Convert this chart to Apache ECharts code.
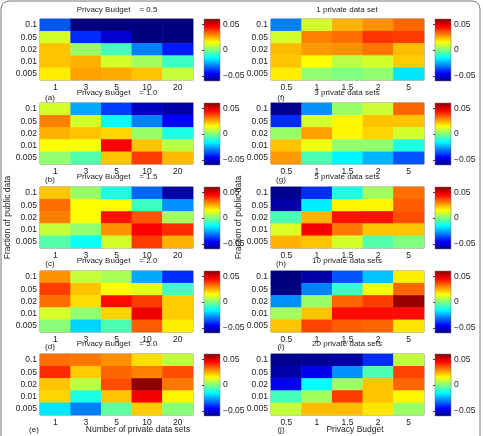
<!DOCTYPE html>
<html>
<head>
<meta charset="utf-8">
<script src="https://cdn.jsdelivr.net/npm/echarts@6/dist/echarts.min.js"></script>
<style>
  html, body { margin: 0; padding: 0; background: #fff; }
  #chart { width: 483px; height: 436px; }
</style>
</head>
<body>
<div id="chart"></div>
<script>
// y categories, top to bottom
const fractions = ['0.1', '0.05', '0.02', '0.01', '0.005']
const dataSetCounts = ['1', '3', '5', '10', '20']
const budgets = ['0.5', '1', '1.5', '2', '5']
const colorTicks = [-0.05, 0, 0.05]

const leftTitles = ['Privacy Budget    = 0.5', 'Privacy Budget    = 1.0', 'Privacy Budget    = 1.5', 'Privacy Budget    = 2.0', 'Privacy Budget    = 5.0']
const rightTitles = ['1 private data set', '3 private data sets', '5 private data sets', '10 private data sets', '20 private data sets']
const leftTags = ['(a)', '(b)', '(c)', '(d)', '(e)']
const rightTags = ['(f)', '(g)', '(h)', '(i)', '(j)']

// rows follow fractions (0.1 first), columns follow the x categories
const pb05 = [
  [-0.035, -0.06, -0.06, -0.06, -0.06],
  [0.01, -0.04, -0.05, -0.06, -0.06],
  [0.022, 0.003, -0.007, -0.03, -0.042],
  [0.022, 0.024, 0.01, 0.004, -0.008],
  [0.017, 0.026, 0.025, 0.022, 0.008],
]
const pb10 = [
  [0.01, -0.025, -0.038, -0.052, -0.055],
  [0.03, 0.01, -0.015, -0.03, -0.045],
  [0.024, 0.022, 0.02, 0.003, -0.012],
  [0.015, 0.014, 0.045, 0.022, 0.007],
  [0.002, -0.005, 0.022, 0.038, 0.023],
]
const pb15 = [
  [0.022, 0.003, -0.012, -0.033, -0.055],
  [0.032, 0.015, 0.015, -0.008, -0.028],
  [0.03, 0.015, 0.043, 0.035, 0.004],
  [0.008, 0.002, 0.028, 0.045, 0.04],
  [-0.005, -0.014, 0.01, 0.038, 0.024],
]
const pb20 = [
  [0.028, 0.008, 0.005, -0.025, -0.04],
  [0.038, 0.022, 0.015, 0.012, -0.007],
  [0.032, 0.019, 0.044, 0.038, 0.021],
  [0.01, 0.002, 0.02, 0.047, 0.021],
  [0.001, -0.02, -0.006, 0.034, 0.017],
]
const pb50 = [
  [0.032, 0.031, 0.028, 0.019, 0.008],
  [0.04, 0.021, 0.033, 0.03, 0.036],
  [0.022, 0.007, 0.036, 0.058, 0.031],
  [0.02, -0.012, 0.022, 0.046, 0.016],
  [-0.018, -0.03, -0.004, 0.021, 0.001],
]
const sets1 = [
  [-0.03, 0.01, 0.024, 0.028, 0.033],
  [0.01, 0.03, 0.032, 0.039, 0.038],
  [0.023, 0.027, 0.028, 0.031, 0.023],
  [0.022, 0.015, 0.007, 0.01, 0.021],
  [0.017, 0.002, 0.0, 0.002, -0.018],
]
const sets3 = [
  [-0.058, -0.028, 0.003, 0.009, 0.033],
  [-0.04, 0.01, 0.016, 0.022, 0.022],
  [0.003, 0.026, 0.016, 0.02, 0.01],
  [0.022, 0.013, 0.002, 0.002, -0.012],
  [0.027, -0.006, -0.016, -0.024, -0.035],
]
const sets5 = [
  [-0.058, -0.04, -0.012, 0.004, 0.032],
  [-0.055, -0.017, 0.016, 0.016, 0.034],
  [-0.006, 0.024, 0.043, 0.043, 0.036],
  [0.011, 0.046, 0.031, 0.022, 0.022],
  [0.024, 0.022, 0.01, -0.005, 0.0],
]
const sets10 = [
  [-0.06, -0.055, -0.035, -0.022, 0.017],
  [-0.06, -0.03, -0.008, 0.014, 0.033],
  [-0.028, 0.003, 0.033, 0.038, 0.057],
  [0.004, 0.022, 0.044, 0.044, 0.044],
  [0.022, 0.037, 0.034, 0.033, 0.018],
]
const sets20 = [
  [-0.058, -0.057, -0.056, -0.04, 0.008],
  [-0.055, -0.047, -0.028, -0.006, 0.037],
  [-0.047, -0.015, 0.004, 0.022, 0.033],
  [-0.007, 0.004, 0.038, 0.022, 0.016],
  [0.008, 0.023, 0.023, 0.018, 0.003],
]

const leftPanels = [pb05, pb10, pb15, pb20, pb50]
const rightPanels = [sets1, sets3, sets5, sets10, sets20]

const jet = ['#000080', '#0000ff', '#0080ff', '#00ffff', '#80ff80', '#ffff00', '#ff8000', '#ff0000', '#800000']
const font = 'Liberation Sans, Arial, sans-serif'
const txt = '#222'
const rowTop = [19, 103, 187, 271, 354]
const cellH = 61

const grid = []
const xAxis = []
const yAxis = []
const series = []

function toCells(rows) {
  const out = []
  rows.forEach((row, r) => row.forEach((v, c) => out.push([c, r, v])))
  return out
}

function addPanel(rows, cats, col, r) {
  const idx = grid.length
  grid.push({
    left: col === 0 ? 40 : 271,
    top: rowTop[r],
    width: 153,
    height: cellH,
    show: true,
    borderColor: '#8a8a72',
    borderWidth: 1,
    backgroundColor: 'transparent',
  })
  xAxis.push({
    type: 'category',
    gridIndex: idx,
    data: cats,
    axisLine: { show: false },
    axisTick: { show: true, inside: true, alignWithLabel: true, length: 2, lineStyle: { color: '#666' } },
    axisLabel: { fontSize: 8.5, color: txt, margin: 3, fontFamily: font },
  })
  yAxis.push({
    type: 'category',
    gridIndex: idx,
    data: fractions,
    inverse: true,
    axisLine: { show: false },
    axisTick: { show: true, inside: true, alignWithLabel: true, length: 2, lineStyle: { color: '#666' } },
    axisLabel: { fontSize: 8.5, color: txt, margin: 3, fontFamily: font },
    name: r === 2 ? 'Fraction of public data' : '',
    nameLocation: 'middle',
    nameGap: col === 0 ? 28 : 17,
    nameTextStyle: { fontSize: 8.5, color: txt, fontFamily: font },
  })
  series.push({
    type: 'heatmap',
    xAxisIndex: idx,
    yAxisIndex: idx,
    data: toCells(rows),
    emphasis: { disabled: true },
    progressive: 0,
  })
}

function addColorbar(col, r) {
  const idx = grid.length
  grid.push({
    left: col === 0 ? 204 : 435,
    top: rowTop[r],
    width: 16,
    height: 62,
    show: true,
    borderColor: '#777',
    borderWidth: 0.5,
    backgroundColor: new echarts.graphic.LinearGradient(0, 0, 0, 1,
      jet.slice().reverse().map((c, i) => ({ offset: i / (jet.length - 1), color: c }))),
  })
  xAxis.push({ type: 'value', gridIndex: idx, show: false, min: 0, max: 1 })
  yAxis.push({
    type: 'value',
    gridIndex: idx,
    position: 'right',
    min: -0.06,
    max: 0.06,
    splitLine: { show: false },
    axisLine: { show: false },
    axisTick: { show: true, inside: true, length: 2, customValues: colorTicks, lineStyle: { color: '#444' } },
    axisLabel: {
      fontSize: 8.5, color: txt, margin: 3, fontFamily: font,
      customValues: colorTicks,
      formatter: (v) => (v === 0 ? '0' : v < 0 ? '\u22120.05' : '0.05'),
    },
  })
}

leftPanels.forEach((rows, r) => addPanel(rows, dataSetCounts, 0, r))
rightPanels.forEach((rows, r) => addPanel(rows, budgets, 1, r))
for (let r = 0; r < 5; r++) {
  addColorbar(0, r)
  addColorbar(1, r)
}

// titles, panel tags and bottom axis names as plain text
const titleY = [10, 93, 177, 261, 344]
const tagY = [98, 180, 264, 347, 430]
const texts = []
function label(text, x, y, size) {
  texts.push({
    type: 'text', x, y, silent: true,
    style: { text, fontSize: size || 8, fill: txt, fontFamily: font, align: 'center', verticalAlign: 'middle' },
  })
}
for (let r = 0; r < 5; r++) {
  label(leftTitles[r], 117, titleY[r])
  label(rightTitles[r], 347, titleY[r])
  label(leftTags[r], r === 4 ? 34 : 50, tagY[r])
  label(rightTags[r], 281, tagY[r])
}
label('Number of private data sets', 138, 430, 8.5)
label('Privacy Budget', 355, 430, 8.5)

const option = {
  animation: false,
  backgroundColor: '#fff',
  grid,
  xAxis,
  yAxis,
  series,
  visualMap: {
    type: 'continuous',
    show: false,
    min: -0.06,
    max: 0.06,
    seriesIndex: series.map((s, i) => i),
    inRange: { color: jet },
  },
  graphic: [
    {
      type: 'rect',
      silent: true,
      shape: { x: 1, y: 1, width: 479, height: 460, r: 8 },
      style: { fill: 'none', stroke: '#777', lineWidth: 1 },
    },
  ].concat(texts),
}

const chart = echarts.init(document.getElementById('chart'))
chart.setOption(option)
</script>
</body>
</html>
